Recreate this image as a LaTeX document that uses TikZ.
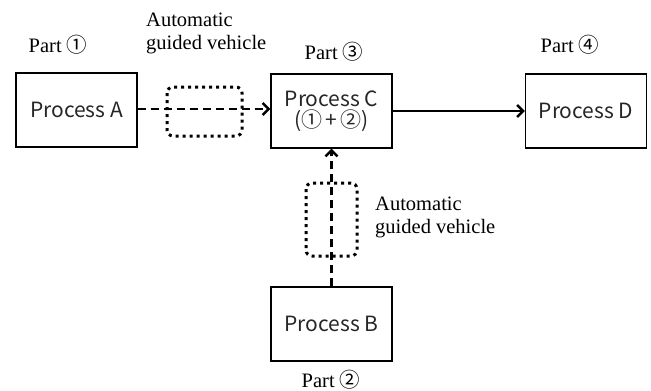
\documentclass[tikz,border=0pt]{standalone}
\usepackage{fontspec}
\setmainfont{Liberation Serif}
\newfontfamily\gothic{Noto Sans CJK JP}
\newfontfamily\circfont{Noto Sans CJK JP}
\usetikzlibrary{arrows.meta}
\newcommand{\cnum}[1]{{\circfont #1}}
\begin{document}
\begin{tikzpicture}[x=1pt,y=-1pt,
  procbox/.style={draw,line width=1.4pt,minimum width=121pt,minimum height=74pt,
    font=\gothic\fontsize{21}{24}\selectfont,align=center,inner sep=0pt,text=black!85},
  partlbl/.style={font=\fontsize{20.5}{23}\selectfont,inner sep=0pt},
  agvlbl/.style={font=\fontsize{20.5}{23}\selectfont,align=left,inner sep=0pt},
  agvbox/.style={draw,line width=3pt,dash pattern=on 3pt off 4pt,rounded corners=6pt},
  flowdash/.style={line width=2.5pt,dash pattern=on 8pt off 5pt,-{Straight Barb[length=6pt,width=12pt,line width=2.5pt]}},
  flowsolid/.style={line width=2.5pt,-{Straight Barb[length=6pt,width=12pt,line width=2.5pt]}}]
\useasboundingbox (0,0) rectangle (651,391);

% process boxes
\node[procbox] (A) at (76.5,110) {Process A};
\node[procbox] (C) at (331.5,111) {Process C\\[-3pt](\cnum{①}{\,}+{\,}\cnum{②})};
\node[procbox] (D) at (586,111) {Process D};
\node[procbox] (B) at (331.5,324) {Process B};

% part labels
\node[partlbl] (pA) at (58,45) {Part \cnum{①}};
\node[partlbl] (pC) at (334,52) {Part \cnum{③}};
\node[partlbl] (pD) at (570,45) {Part \cnum{④}};
\node[partlbl] (pB) at (331,380) {Part \cnum{②}};

% guided vehicle labels
\node[agvlbl,anchor=west] (gv1) at (146,33) {Automatic\\guided vehicle};
\node[agvlbl,anchor=west] (gv2) at (375,217) {Automatic\\guided vehicle};

% vehicles (dotted rounded outlines)
\draw[agvbox] (167,87) rectangle (242,136);
\draw[agvbox] (306,183) rectangle (357,256);

% flows
\draw[flowdash] (A.east |- 0,109) -- (C.west |- 0,109);
\draw[flowdash] (B.north) -- (C.south);
\draw[flowsolid] (C) -- (D);
\end{tikzpicture}
\end{document}
